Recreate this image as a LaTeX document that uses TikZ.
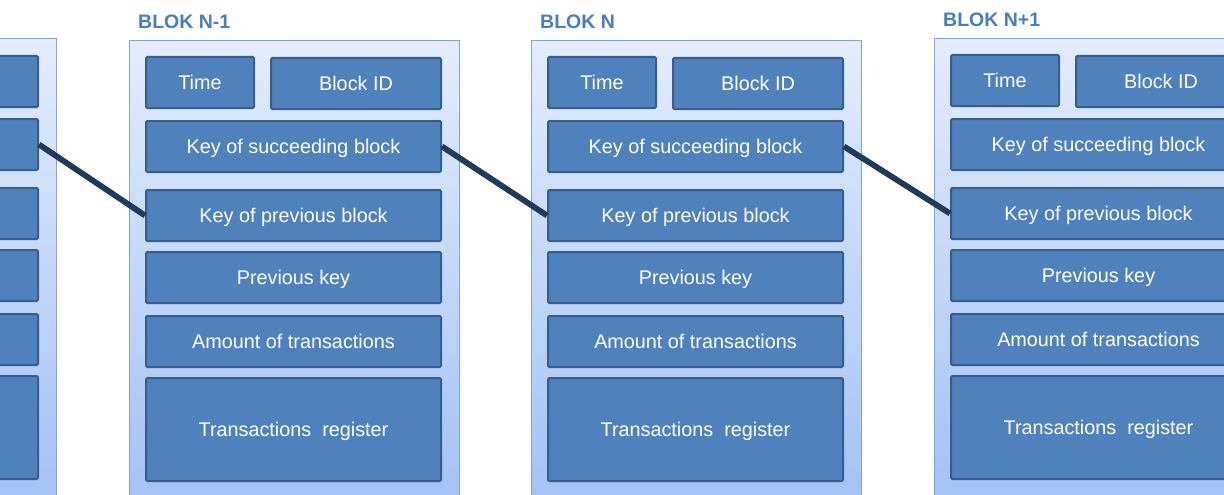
\documentclass[tikz,border=0pt]{standalone}
\usepackage{fontspec}
\setmainfont{Liberation Sans}
\definecolor{fieldfill}{HTML}{4F81BD}
\definecolor{fieldedge}{HTML}{385D8A}
\definecolor{outeredge}{HTML}{7FA6DC}
\definecolor{outertop}{HTML}{E4EDFD}
\definecolor{outerbottom}{HTML}{A1C0F4}
\definecolor{linkcol}{HTML}{203A5C}
\definecolor{titlecol}{HTML}{4A7EBB}
\newif\ifblocklabels
% one block of the chain: #1 name prefix, #2 left edge, #3 top edge
\newcommand\chainblock[3]{%
  \draw[outerbox] (#2,#3) rectangle ({#2+330},{#3+475});
  \ifblocklabels
    \def\lblTime{Time}\def\lblId{Block ID}\def\lblSucc{Key of succeeding block}%
    \def\lblPrev{Key of previous block}\def\lblPk{Previous key}%
    \def\lblAmt{Amount of transactions}\def\lblReg{Transactions\ \ register}%
  \else
    \def\lblTime{}\def\lblId{}\def\lblSucc{}\def\lblPrev{}\def\lblPk{}\def\lblAmt{}\def\lblReg{}%
  \fi
  \node[field, minimum width=108, minimum height=51] (#1-time) at ({#2+71},{#3+41.5}) {\lblTime};
  \node[field, minimum width=170, minimum height=51] (#1-id) at ({#2+227},{#3+42.5}) {\lblId};
  \node[field, wide] (#1-succ) at ({#2+164.5},{#3+105.5}) {\lblSucc};
  \node[field, wide] (#1-prev) at ({#2+164.5},{#3+174.5}) {\lblPrev};
  \node[field, wide] (#1-pkey) at ({#2+164.5},{#3+236.5}) {\lblPk};
  \node[field, wide] (#1-amt) at ({#2+164.5},{#3+300.5}) {\lblAmt};
  \node[field, wide, minimum height=103] (#1-reg) at ({#2+164.5},{#3+388.5}) {\lblReg};
}
\tikzset{
  outerbox/.style={draw=outeredge, line width=1pt, top color=outertop, bottom color=outerbottom},
  field/.style={draw=fieldedge, fill=fieldfill, line width=2pt, rounded corners=1.2pt,
    text=white, inner sep=0pt, text height=14.2pt, text depth=0pt,
    font=\fontsize{19.8}{23}\selectfont},
  wide/.style={minimum width=295, minimum height=51},
  blocktitle/.style={anchor=west, text=titlecol, inner sep=0pt, text height=14pt, text depth=0pt,
    font=\bfseries\fontsize{19.5}{23}\selectfont},
  link/.style={draw=linkcol, line width=5.8pt},
}
\begin{document}
\begin{tikzpicture}[x=1pt, y=-1pt]
  \useasboundingbox (0,0) rectangle (1224,495);
  \fill[white] (0,0) rectangle (1224,495);
  \clip (0,0) rectangle (1224,495);
  % blocks of the chain
  \blocklabelsfalse
  \chainblock{prior}{-274}{39}
  \blocklabelstrue
  \chainblock{nm1}{129}{41}
  \chainblock{n}{531}{41}
  \chainblock{np1}{934}{39}
  % block titles
  \node[blocktitle] (t-nm1) at (138,22) {BLOK N-1};
  \node[blocktitle] (t-n) at (540,22) {BLOK N};
  \node[blocktitle] (t-np1) at (943,20) {BLOK N+1};
  % links between succeeding and previous keys
  \draw[link] (prior-succ.east) -- (nm1-prev.west);
  \draw[link] (nm1-succ.east) -- (n-prev.west);
  \draw[link] (n-succ.east) -- (np1-prev.west);
\end{tikzpicture}
\end{document}
